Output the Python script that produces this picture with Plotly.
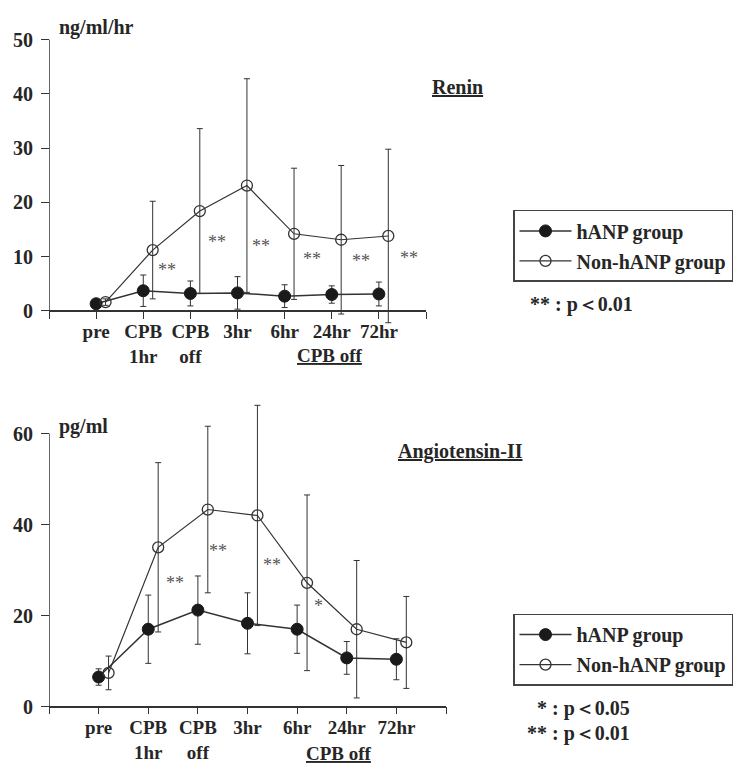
import plotly.graph_objects as go

# ---------------- data ----------------
categories = ["pre", "CPB<br>1hr", "CPB<br>off", "3hr", "6hr", "24hr", "72hr"]

renin_hanp = [1.3, 3.7, 3.2, 3.3, 2.7, 3.0, 3.1]
renin_hanp_sd = [0.7, 2.9, 2.3, 3.0, 2.1, 1.6, 2.2]
renin_non = [1.6, 11.2, 18.4, 23.1, 14.2, 13.1, 13.8]
renin_non_sd = [0.6, 9.0, 15.2, 19.7, 12.1, 13.7, 16.0]
renin_sig_text = ["**", "**", "**", "**", "**", "**"]
renin_sig_x = [1.5, 2.56, 3.5, 4.58, 5.63, 6.63]
renin_sig_y = [7.5, 12.7, 11.9, 9.5, 9.2, 9.8]

ang_hanp = [6.5, 17.0, 21.2, 18.3, 17.0, 10.7, 10.4]
ang_hanp_sd = [1.8, 7.5, 7.5, 6.7, 5.3, 3.6, 4.5]
ang_non = [7.4, 35.0, 43.3, 42.0, 27.2, 17.0, 14.1]
ang_non_sd = [3.7, 18.6, 18.3, 24.2, 19.3, 15.1, 10.1]
ang_sig_text = ["**", "**", "**", "*"]
ang_sig_x = [1.54, 2.4, 3.5, 4.43]
ang_sig_y = [27.2, 34.1, 31.1, 22.0]

renin_yticks = [0, 10, 20, 30, 40, 50]
ang_yticks = [0, 20, 40, 60]

# ---------------- layout helpers ----------------
PAGE_MARGIN = 8          # default <body> margin of the html page
W, H = 749 - PAGE_MARGIN, 765 - PAGE_MARGIN
FONT = "Liberation Serif"
INK = "#262626"
LINE = "#333333"
OFFSET = 0.2


def px_x(p):
    return (p - PAGE_MARGIN) / W


def px_y(p):
    return 1 - (p - PAGE_MARGIN) / H


idx = list(range(len(categories)))
idx_off = [i + OFFSET for i in idx]

fig = go.Figure()


def add_group(xa, ya, hanp, hanp_sd, non, non_sd, legend):
    fig.add_trace(go.Scatter(
        x=idx, y=hanp, xaxis=xa, yaxis=ya, name="hANP group",
        mode="lines+markers", legend=legend, legendgroup=legend + "a",
        line=dict(color=LINE, width=1.5),
        marker=dict(symbol="circle", size=12, color="#1a1a1a",
                    line=dict(color="#1a1a1a", width=1)),
        error_y=dict(type="data", array=hanp_sd, visible=True,
                     color=LINE, thickness=1, width=3),
        cliponaxis=False,
    ))
    fig.add_trace(go.Scatter(
        x=idx_off, y=non, xaxis=xa, yaxis=ya, name="Non-hANP group",
        mode="lines+markers", legend=legend, legendgroup=legend + "b",
        line=dict(color=LINE, width=1.2),
        marker=dict(symbol="circle-open", size=11, color=LINE,
                    line=dict(color=LINE, width=1.3)),
        error_y=dict(type="data", array=non_sd, visible=True,
                     color=LINE, thickness=1, width=3),
        cliponaxis=False,
    ))


add_group("x", "y", renin_hanp, renin_hanp_sd, renin_non, renin_non_sd, "legend")
add_group("x2", "y2", ang_hanp, ang_hanp_sd, ang_non, ang_non_sd, "legend2")

tick_font = dict(family=FONT, size=19, color=INK, weight="bold")

xcommon = dict(
    range=[-1, 7], tickmode="array", tickvals=list(range(-1, 8)),
    ticktext=[""] + categories + [""], ticks="outside", ticklen=7,
    tickwidth=1.2, tickcolor=LINE, showline=True, linecolor=LINE,
    linewidth=1.5, showgrid=False, zeroline=False, tickfont=tick_font,
    anchor="free", ticklabelstandoff=-3, tickangle=0,
)
ycommon = dict(
    tickmode="array", ticks="outside", ticklen=8, tickwidth=1.2,
    tickcolor=LINE, showline=False, showgrid=False, zeroline=False,
    tickfont=dict(tick_font, size=20), anchor="free", position=px_x(49),
    ticklabelstandoff=4,
)

legend_common = dict(
    xanchor="left", yanchor="top", bordercolor="#444444", borderwidth=1.5,
    bgcolor="white", font=dict(family=FONT, size=20, color=INK, weight="bold"),
    tracegroupgap=1, itemwidth=52,
)

fig.update_layout(
    width=W, height=H,
    margin=dict(l=0, r=0, t=0, b=0),
    paper_bgcolor="white", plot_bgcolor="white",
    font=dict(family=FONT, color=INK),
    xaxis=dict(xcommon, domain=[px_x(49), px_x(426)], position=px_y(308)),
    yaxis=dict(ycommon, domain=[px_y(324.4), px_y(28.5)], range=[-3, 51],
               tickvals=renin_yticks),
    xaxis2=dict(xcommon, domain=[px_x(49), px_x(446)], position=px_y(708)),
    yaxis2=dict(ycommon, domain=[px_y(717.2), px_y(395.2)], range=[-2, 68],
                tickvals=ang_yticks),
    legend=dict(legend_common, x=px_x(513), y=px_y(206)),
    legend2=dict(legend_common, x=px_x(513), y=px_y(614)),
    showlegend=True,
)

# y axis lines (only up to top tick)
fig.add_shape(type="line", xref="x", yref="y", x0=-1, x1=-1, y0=0,
              y1=renin_yticks[-1], line=dict(color=LINE, width=1.5))
fig.add_shape(type="line", xref="x2", yref="y2", x0=-1, x1=-1, y0=0,
              y1=ang_yticks[-1], line=dict(color=LINE, width=1.5))

# significance marks
sig_font = dict(family=FONT, size=18, color="#555555")
for t, sx, sy in zip(renin_sig_text, renin_sig_x, renin_sig_y):
    fig.add_annotation(x=sx, y=sy, xref="x", yref="y", text=t,
                       showarrow=False, font=sig_font)
for t, sx, sy in zip(ang_sig_text, ang_sig_x, ang_sig_y):
    fig.add_annotation(x=sx, y=sy, xref="x2", yref="y2", text=t,
                       showarrow=False, font=sig_font)


def ann(text, x, y, xanchor="left", size=20):
    fig.add_annotation(x=px_x(x), y=px_y(y), xref="paper", yref="paper",
                       text=text, showarrow=False, xanchor=xanchor,
                       yanchor="middle",
                       font=dict(family=FONT, size=size, color=INK,
                                 weight="bold"))


ann("ng/ml/hr", 57, 22)
ann("pg/ml", 57, 425)
ann("<u>Renin</u>", 430, 82)
ann("<u>Angiotensin-II</u>", 396, 450)
ann("<u>CPB off</u>", 330, 353, xanchor="center", size=19)
ann("<u>CPB off</u>", 339, 755, xanchor="center", size=19)
ann("** : p\uff1c0.01", 635, 302, xanchor="right")
ann("* : p\uff1c0.05", 632, 710, xanchor="right")
ann("** : p\uff1c0.01", 632, 735, xanchor="right")

fig.write_html("out.html")
